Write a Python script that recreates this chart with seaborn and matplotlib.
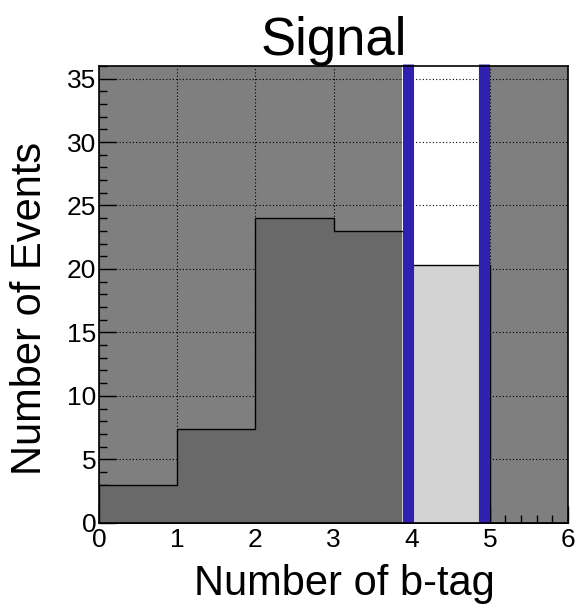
import numpy as np
import pandas as pd
import matplotlib
matplotlib.use("Agg")
import matplotlib.pyplot as plt
from matplotlib.ticker import MultipleLocator
import seaborn as sns

sns.set_style("white")
plt.rcParams["font.family"] = ["Liberation Sans", "DejaVu Sans"]
plt.rcParams["text.color"] = "black"
plt.rcParams["axes.labelcolor"] = "black"
plt.rcParams["xtick.color"] = "black"
plt.rcParams["ytick.color"] = "black"

# histogram contents (one entry per b-tag bin)
bin_edges = [0, 1, 2, 3, 4, 5, 6]
bin_centers = [0.5, 1.5, 2.5, 3.5, 4.5, 5.5]
n_events = [3.0, 7.4, 24.0, 23.0, 20.3, 0.0]

# selected window (cut lines) and shaded (rejected) ranges
cut_lines = [3.95, 4.92]
shaded_ranges = [(0.0, 3.88), (4.99, 6.0)]

df = pd.DataFrame({"nbtag": bin_centers, "events": n_events})

fig = plt.figure(figsize=(5.76, 6.10), dpi=100)
ax = fig.add_axes([0.172, 0.143, 0.814, 0.749])

# grid and ticks sit below the histogram, like ROOT
ax.grid(True, which="major", color="black", linestyle=(0, (1, 2)), linewidth=0.8)
ax.set_axisbelow(True)

sns.histplot(
    data=df,
    x="nbtag",
    weights="events",
    bins=bin_edges,
    element="step",
    fill=True,
    color="#d3d3d3",
    alpha=1,
    edgecolor="black",
    linewidth=1.0,
    ax=ax,
    zorder=2
)

ax.set_xlim(0, 6)
ax.set_ylim(0, 36)

# grey out the rejected regions
for lo, hi in shaded_ranges:
    ax.axvspan(lo, hi, color="black", alpha=0.5, linewidth=0, zorder=3)

# cut lines
for xc in cut_lines:
    ax.axvline(xc, color="#3020b0", linewidth=8, zorder=4, clip_on=False,
               ymin=0, ymax=1.005, solid_capstyle="butt")

ax.xaxis.set_major_locator(MultipleLocator(1))
ax.xaxis.set_minor_locator(MultipleLocator(0.2))
ax.yaxis.set_major_locator(MultipleLocator(5))
ax.yaxis.set_minor_locator(MultipleLocator(1))

ax.tick_params(axis="both", which="both", bottom=True, left=True, top=False, right=False)
ax.tick_params(axis="both", which="major", direction="in", length=12, width=1,
               labelsize=19, color="black")
ax.tick_params(axis="both", which="minor", direction="in", length=6, width=1)
ax.tick_params(axis="x", which="major", pad=4)
ax.tick_params(axis="y", which="major", pad=2)

for side in ["top", "bottom", "left", "right"]:
    ax.spines[side].set_color("black")
    ax.spines[side].set_linewidth(1.2)
    ax.spines[side].set_zorder(6)

ax.set_xlabel("Number of b-tag", fontsize=30)
ax.set_ylabel("Number of Events", fontsize=30)
ax.xaxis.set_label_coords(0.524, -0.09)
ax.yaxis.set_label_coords(-0.104, 0.47)
ax.set_title("Signal", fontsize=38, pad=5)

fig.savefig("out.png", dpi=100)
